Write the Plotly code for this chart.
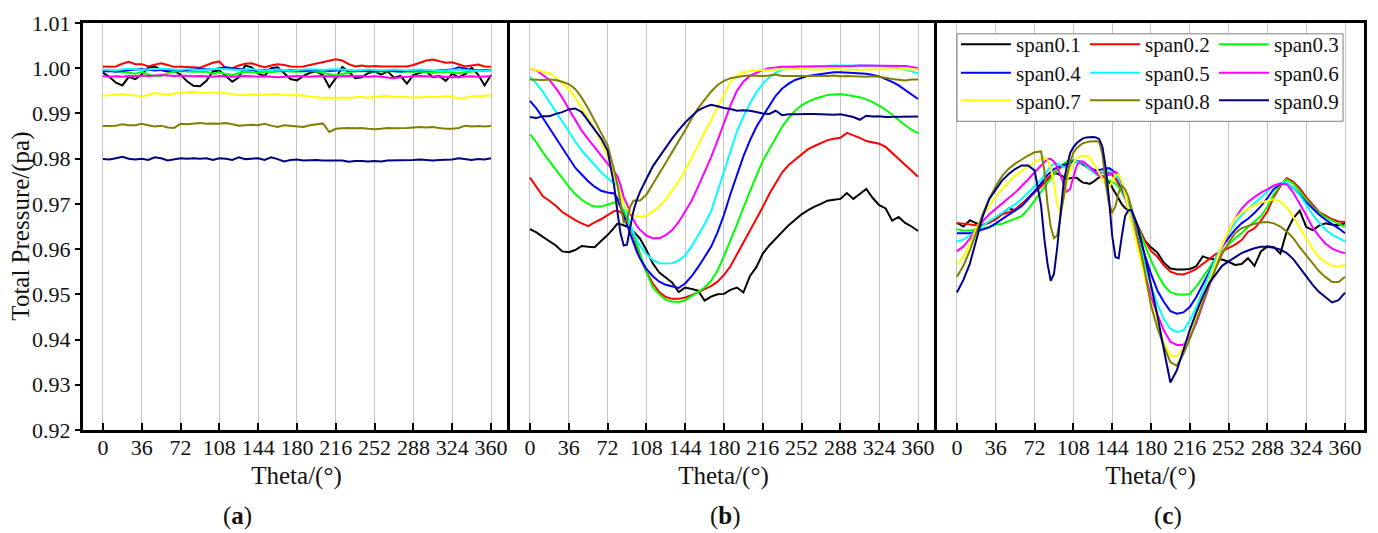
import plotly.graph_objects as go

# ---------------- data ----------------
SPAN_NAMES = ["span0.1", "span0.2", "span0.3", "span0.4", "span0.5",
              "span0.6", "span0.7", "span0.8", "span0.9"]
SPAN_COLORS = ["#000000", "#FF0000", "#00FF00", "#0000FF", "#00FFFF",
               "#FF00FF", "#FFFF00", "#808000", "#000080"]

X_TICKS = [0, 36, 72, 108, 144, 180, 216, 252, 288, 324, 360]
Y_TICKS = [0.92, 0.93, 0.94, 0.95, 0.96, 0.97, 0.98, 0.99, 1.00, 1.01]

# circumferential stations, panel (a)
THETA_A = [0, 6, 12, 18, 24, 30, 36, 42, 48, 54, 60, 66, 72, 78, 84, 90, 96, 102,
           108, 114, 120, 126, 132, 138, 144, 150, 156, 162, 168, 174, 180, 186,
           192, 198, 204, 210, 216, 222, 228, 234, 240, 246, 252, 258, 264, 270,
           276, 282, 288, 294, 300, 306, 312, 318, 324, 330, 336, 342, 348, 354, 360]

# circumferential stations, panel (b)
THETA_B = [0, 6, 12, 18, 24, 30, 36, 42, 48, 54, 60, 66, 72, 78,
           81, 84, 87, 90, 93, 96, 99,
           102, 108, 114, 120, 126, 132, 138, 144, 150, 156, 162, 168, 174, 180,
           186, 192, 198, 204, 210, 216, 222, 228, 234, 240, 246, 252, 258, 264,
           270, 276, 282, 288, 294, 300, 306, 312, 318, 324, 330, 336, 342, 348,
           354, 360]

# circumferential stations, panel (c)
THETA_C = [0, 6, 12, 18, 24, 30, 36, 42, 48, 54, 60, 66, 72, 78,
           81, 84, 87, 90, 93, 96, 99, 102, 105, 108, 111, 114, 117, 120, 123,
           126, 129, 132, 135, 138, 141, 144, 147, 150, 153, 156, 159,
           162, 168, 174, 180, 186, 192, 198, 204, 210, 216, 222, 228, 234, 240,
           246, 252, 258, 264, 270, 276, 282, 288, 294, 300, 306, 312, 318, 324,
           330, 336, 342, 348, 354, 360]

# ---- panel (a) ----
a_span01 = [0.9990, 0.9981, 0.9968, 0.9962, 0.9981, 0.9976, 0.9986, 1.0001, 1.0004, 0.9996,
            0.9993, 0.9994, 0.9986, 0.9971, 0.9961, 0.9960, 0.9972, 0.9993, 0.9995, 0.9982,
            0.9970, 0.9980, 1.0006, 1.0002, 0.9988, 0.9983, 1.0000, 1.0002, 0.9988, 0.9976,
            0.9973, 0.9983, 0.9990, 0.9993, 0.9985, 0.9958, 0.9978, 1.0003, 0.9992, 0.9978,
            0.9980, 0.9989, 0.9993, 0.9986, 0.9993, 0.9979, 0.9983, 0.9966, 0.9985, 0.9990,
            0.9993, 0.9980, 0.9983, 0.9972, 0.9988, 0.9980, 0.9987, 1.0001, 0.9986, 0.9962,
            0.9985]
a_span02 = [1.0004, 1.0003, 1.0004, 1.0010, 1.0014, 1.0009, 1.0009, 1.0004, 1.0008, 1.0011,
            1.0007, 1.0003, 1.0003, 1.0003, 1.0002, 1.0001, 1.0006, 1.0012, 1.0015, 0.9999,
            1.0000, 1.0006, 1.0010, 1.0011, 1.0006, 1.0002, 1.0006, 1.0009, 1.0007, 1.0004,
            1.0003, 1.0004, 1.0007, 1.0010, 1.0013, 1.0017, 1.0020, 1.0017, 1.0009, 1.0004,
            1.0006, 1.0004, 1.0005, 1.0004, 1.0004, 1.0005, 1.0005, 1.0004, 1.0007, 1.0012,
            1.0017, 1.0019, 1.0015, 1.0012, 1.0013, 1.0009, 1.0004, 1.0006, 1.0008, 1.0004,
            1.0003]
a_span03 = [0.9994, 0.9995, 0.9994, 0.9992, 0.9990, 0.9988, 0.9991, 0.9986, 0.9982, 0.9983,
            0.9989, 0.9992, 0.9994, 0.9993, 0.9992, 0.9993, 0.9992, 0.9988, 0.9991, 0.9987,
            0.9985, 0.9989, 0.9992, 0.9991, 0.9990, 0.9992, 0.9991, 0.9993, 0.9994, 0.9993,
            0.9992, 0.9993, 0.9994, 0.9993, 0.9990, 0.9986, 0.9984, 0.9987, 0.9990, 0.9993,
            0.9994, 0.9993, 0.9992, 0.9993, 0.9994, 0.9993, 0.9992, 0.9993, 0.9992, 0.9993,
            0.9991, 0.9990, 0.9991, 0.9992, 0.9990, 0.9989, 0.9991, 0.9993, 0.9994, 0.9995,
            0.9996]
a_span04 = [0.9993, 0.9994, 0.9992, 0.9994, 0.9996, 0.9997, 0.9998, 0.9996, 0.9995, 0.9996,
            0.9997, 0.9996, 0.9995, 0.9996, 0.9998, 0.9999, 0.9998, 0.9997, 1.0000, 1.0002,
            1.0000, 0.9998, 0.9997, 0.9996, 0.9995, 0.9996, 0.9997, 0.9996, 0.9995, 0.9996,
            0.9995, 0.9994, 0.9995, 0.9996, 0.9995, 0.9994, 0.9995, 0.9996, 0.9995, 0.9994,
            0.9995, 0.9994, 0.9993, 0.9994, 0.9995, 0.9994, 0.9993, 0.9994, 0.9995, 0.9996,
            0.9995, 0.9994, 0.9995, 0.9996, 0.9997, 1.0002, 0.9999, 0.9996, 0.9995, 0.9996,
            0.9995]
a_span05 = [0.9997, 0.9996, 0.9995, 0.9997, 0.9999, 0.9998, 0.9996, 0.9997, 0.9998, 0.9999,
            0.9998, 0.9997, 0.9996, 0.9998, 0.9997, 0.9996, 0.9997, 0.9998, 0.9999, 0.9998,
            0.9997, 0.9996, 0.9997, 0.9998, 0.9996, 0.9995, 0.9996, 0.9997, 0.9996, 0.9995,
            0.9996, 0.9997, 0.9998, 0.9997, 0.9996, 0.9997, 0.9998, 0.9997, 0.9996, 0.9995,
            0.9996, 0.9997, 0.9996, 0.9995, 0.9996, 0.9997, 0.9996, 0.9995, 0.9996, 0.9997,
            0.9996, 0.9995, 0.9994, 0.9995, 0.9996, 0.9997, 0.9996, 0.9995, 0.9994, 0.9995,
            0.9995]
a_span06 = [0.9982, 0.9981, 0.9982, 0.9981, 0.9983, 0.9982, 0.9984, 0.9983, 0.9984, 0.9985,
            0.9984, 0.9983, 0.9984, 0.9983, 0.9982, 0.9983, 0.9982, 0.9981, 0.9983, 0.9982,
            0.9981, 0.9982, 0.9983, 0.9982, 0.9981, 0.9982, 0.9981, 0.9980, 0.9981, 0.9982,
            0.9983, 0.9982, 0.9981, 0.9982, 0.9983, 0.9982, 0.9981, 0.9982, 0.9983, 0.9982,
            0.9983, 0.9981, 0.9982, 0.9981, 0.9979, 0.9978, 0.9980, 0.9981, 0.9982, 0.9983,
            0.9982, 0.9981, 0.9982, 0.9981, 0.9980, 0.9981, 0.9982, 0.9982, 0.9981, 0.9982,
            0.9982]
a_span07 = [0.9939, 0.9940, 0.9941, 0.9943, 0.9941, 0.9940, 0.9937, 0.9941, 0.9945, 0.9943,
            0.9942, 0.9944, 0.9945, 0.9946, 0.9948, 0.9946, 0.9945, 0.9947, 0.9944, 0.9945,
            0.9942, 0.9940, 0.9941, 0.9942, 0.9941, 0.9942, 0.9942, 0.9943, 0.9941, 0.9940,
            0.9941, 0.9939, 0.9937, 0.9935, 0.9934, 0.9935, 0.9933, 0.9935, 0.9934, 0.9936,
            0.9937, 0.9935, 0.9936, 0.9938, 0.9939, 0.9937, 0.9937, 0.9936, 0.9935, 0.9936,
            0.9937, 0.9937, 0.9936, 0.9938, 0.9937, 0.9933, 0.9935, 0.9938, 0.9938, 0.9939,
            0.9940]
a_span08 = [0.9872, 0.9872, 0.9873, 0.9876, 0.9874, 0.9874, 0.9877, 0.9874, 0.9871, 0.9873,
            0.9869, 0.9868, 0.9877, 0.9876, 0.9878, 0.9879, 0.9877, 0.9878, 0.9877, 0.9879,
            0.9876, 0.9873, 0.9874, 0.9875, 0.9874, 0.9877, 0.9873, 0.9870, 0.9874, 0.9873,
            0.9871, 0.9870, 0.9874, 0.9876, 0.9878, 0.9859, 0.9866, 0.9867, 0.9868, 0.9867,
            0.9868, 0.9866, 0.9865, 0.9866, 0.9868, 0.9867, 0.9867, 0.9868, 0.9869, 0.9870,
            0.9869, 0.9870, 0.9868, 0.9866, 0.9866, 0.9868, 0.9873, 0.9871, 0.9872, 0.9871,
            0.9872]
a_span09 = [0.9799, 0.9798, 0.9801, 0.9804, 0.9800, 0.9798, 0.9800, 0.9797, 0.9803, 0.9801,
            0.9796, 0.9799, 0.9801, 0.9800, 0.9801, 0.9800, 0.9801, 0.9797, 0.9801, 0.9800,
            0.9797, 0.9803, 0.9799, 0.9800, 0.9801, 0.9797, 0.9803, 0.9799, 0.9794, 0.9797,
            0.9798, 0.9796, 0.9797, 0.9797, 0.9796, 0.9796, 0.9797, 0.9796, 0.9793, 0.9795,
            0.9795, 0.9794, 0.9795, 0.9794, 0.9796, 0.9796, 0.9797, 0.9796, 0.9797, 0.9798,
            0.9797, 0.9796, 0.9797, 0.9798, 0.9798, 0.9801, 0.9799, 0.9797, 0.9799, 0.9798,
            0.9801]

# ---- panel (b) ----
b_span01 = [0.9644, 0.9637, 0.9627, 0.9617, 0.9608, 0.9595, 0.9593, 0.9598, 0.9607, 0.9605,
            0.9604, 0.9618, 0.9631, 0.9647,
            0.9656, 0.9655, 0.9653, 0.9650, 0.9646, 0.9638, 0.9632,
            0.9624, 0.9598, 0.9568, 0.9548, 0.9538, 0.9526, 0.9505, 0.9515, 0.9512, 0.9508,
            0.9486, 0.9495, 0.9500, 0.9501, 0.9510, 0.9515, 0.9504, 0.9540, 0.9560, 0.9590,
            0.9608, 0.9623, 0.9637, 0.9653, 0.9665, 0.9677, 0.9686, 0.9694, 0.9700, 0.9707,
            0.9709, 0.9711, 0.9724, 0.9711, 0.9722, 0.9733, 0.9713, 0.9697, 0.9690, 0.9663,
            0.9671, 0.9658, 0.9650, 0.9640]
b_span02 = [0.9758, 0.9737, 0.9717, 0.9707, 0.9696, 0.9682, 0.9672, 0.9664, 0.9657, 0.9651,
            0.9659, 0.9666, 0.9675, 0.9684,
            0.9685, 0.9682, 0.9674, 0.9665, 0.9653, 0.9628, 0.9605,
            0.9582, 0.9550, 0.9524, 0.9505, 0.9494, 0.9490, 0.9490, 0.9493, 0.9498, 0.9505,
            0.9512, 0.9518, 0.9528, 0.9543, 0.9562, 0.9588, 0.9614, 0.9638, 0.9665, 0.9693,
            0.9722, 0.9747, 0.9770, 0.9786, 0.9798, 0.9810, 0.9821, 0.9828, 0.9835, 0.9841,
            0.9844, 0.9846, 0.9857, 0.9852, 0.9846, 0.9839, 0.9836, 0.9833, 0.9826, 0.9813,
            0.9800, 0.9787, 0.9772, 0.9760]
b_span03 = [0.9854, 0.9836, 0.9814, 0.9795, 0.9776, 0.9756, 0.9738, 0.9722, 0.9709, 0.9700,
            0.9694, 0.9694, 0.9698, 0.9703,
            0.9701, 0.9696, 0.9685, 0.9669, 0.9651, 0.9633, 0.9612,
            0.9591, 0.9549, 0.9515, 0.9500, 0.9488, 0.9484, 0.9483, 0.9487, 0.9496, 0.9505,
            0.9515, 0.9530, 0.9552, 0.9585, 0.9619, 0.9654, 0.9692, 0.9729, 0.9762, 0.9795,
            0.9820, 0.9847, 0.9871, 0.9890, 0.9906, 0.9918, 0.9926, 0.9932, 0.9937, 0.9941,
            0.9942, 0.9943, 0.9941, 0.9939, 0.9936, 0.9931, 0.9925, 0.9917, 0.9908, 0.9897,
            0.9885, 0.9874, 0.9864, 0.9856]
b_span04 = [0.9928, 0.9911, 0.9890, 0.9868, 0.9845, 0.9823, 0.9801, 0.9780, 0.9765, 0.9750,
            0.9738, 0.9729, 0.9725, 0.9723,
            0.9713, 0.9693, 0.9671, 0.9654, 0.9631, 0.9613, 0.9595,
            0.9580, 0.9556, 0.9540, 0.9528, 0.9521, 0.9517, 0.9514, 0.9524, 0.9540, 0.9560,
            0.9582, 0.9605, 0.9637, 0.9676, 0.9722, 0.9765, 0.9805, 0.9840, 0.9870, 0.9894,
            0.9916, 0.9939, 0.9955, 0.9966, 0.9974, 0.9979, 0.9983, 0.9985, 0.9987, 0.9990,
            0.9991, 0.9991, 0.9990, 0.9990, 0.9989, 0.9988, 0.9985, 0.9982, 0.9976, 0.9970,
            0.9962, 0.9952, 0.9942, 0.9932]
b_span05 = [0.9981, 0.9966, 0.9948, 0.9927, 0.9904, 0.9882, 0.9859, 0.9838, 0.9818, 0.9802,
            0.9786, 0.9770, 0.9757, 0.9745,
            0.9744, 0.9730, 0.9705, 0.9680, 0.9655, 0.9637, 0.9620,
            0.9608, 0.9589, 0.9576, 0.9569, 0.9568, 0.9569, 0.9575, 0.9586, 0.9606, 0.9630,
            0.9655, 0.9683, 0.9728, 0.9770, 0.9818, 0.9860, 0.9893, 0.9922, 0.9946, 0.9966,
            0.9980, 0.9990, 0.9997, 1.0001, 1.0003, 1.0004, 1.0004, 1.0004, 1.0005, 1.0006,
            1.0006, 1.0006, 1.0006, 1.0007, 1.0006, 1.0006, 1.0006, 1.0005, 1.0004, 1.0002,
            1.0000, 0.9997, 0.9993, 0.9989]
b_span06 = [0.9999, 0.9995, 0.9985, 0.9974, 0.9956, 0.9935, 0.9910, 0.9886, 0.9862, 0.9843,
            0.9825, 0.9806, 0.9787, 0.9771,
            0.9762, 0.9742, 0.9715, 0.9700, 0.9679, 0.9665, 0.9652,
            0.9643, 0.9630, 0.9624, 0.9624, 0.9631, 0.9642, 0.9660, 0.9683, 0.9707, 0.9738,
            0.9770, 0.9803, 0.9840, 0.9880, 0.9918, 0.9950, 0.9970, 0.9983, 0.9990, 0.9996,
            1.0000, 1.0002, 1.0003, 1.0003, 1.0004, 1.0004, 1.0004, 1.0004, 1.0004, 1.0004,
            1.0004, 1.0004, 1.0005, 1.0005, 1.0006, 1.0006, 1.0006, 1.0006, 1.0006, 1.0006,
            1.0006, 1.0005, 1.0003, 1.0000]
b_span07 = [0.9999, 0.9996, 0.9993, 0.9989, 0.9980, 0.9968, 0.9954, 0.9935, 0.9913, 0.9891,
            0.9866, 0.9838, 0.9806, 0.9763,
            0.9744, 0.9722, 0.9700, 0.9688, 0.9681, 0.9676, 0.9672,
            0.9671, 0.9674, 0.9683, 0.9695, 0.9710, 0.9729, 0.9750, 0.9775, 0.9801, 0.9830,
            0.9858, 0.9884, 0.9915, 0.9940, 0.9970, 0.9984, 0.9991, 0.9994, 0.9995, 0.9996,
            0.9997, 0.9997, 0.9998, 0.9998, 0.9999, 0.9999, 0.9998, 0.9997, 0.9997, 0.9998,
            0.9999, 0.9998, 0.9997, 0.9997, 0.9996, 0.9997, 0.9998, 0.9998, 0.9998, 0.9998,
            0.9999, 0.9998, 0.9997, 0.9997]
b_span08 = [0.9975, 0.9974, 0.9974, 0.9975, 0.9974, 0.9970, 0.9965, 0.9954, 0.9935, 0.9911,
            0.9884, 0.9855, 0.9830, 0.9776,
            0.9744, 0.9703, 0.9659, 0.9662, 0.9694, 0.9707, 0.9708,
            0.9707, 0.9720, 0.9744, 0.9769, 0.9791, 0.9815, 0.9838, 0.9863, 0.9889, 0.9912,
            0.9930, 0.9948, 0.9963, 0.9972, 0.9978, 0.9981, 0.9983, 0.9984, 0.9983, 0.9983,
            0.9984, 0.9986, 0.9983, 0.9983, 0.9982, 0.9983, 0.9982, 0.9983, 0.9982, 0.9983,
            0.9984, 0.9982, 0.9983, 0.9982, 0.9982, 0.9981, 0.9982, 0.9981, 0.9979, 0.9976,
            0.9975, 0.9973, 0.9975, 0.9975]
b_span09 = [0.9892, 0.9890, 0.9894, 0.9894, 0.9899, 0.9903, 0.9909, 0.9911, 0.9903, 0.9884,
            0.9864, 0.9845, 0.9818, 0.9742,
            0.9685, 0.9635, 0.9608, 0.9610, 0.9648, 0.9684, 0.9708,
            0.9726, 0.9755, 0.9783, 0.9804, 0.9826, 0.9845, 0.9863, 0.9880, 0.9894, 0.9907,
            0.9914, 0.9919, 0.9916, 0.9912, 0.9910, 0.9906, 0.9907, 0.9906, 0.9903, 0.9900,
            0.9899, 0.9906, 0.9896, 0.9898, 0.9898, 0.9899, 0.9899, 0.9899, 0.9898, 0.9898,
            0.9897, 0.9898, 0.9895, 0.9892, 0.9886, 0.9895, 0.9893, 0.9894, 0.9892, 0.9892,
            0.9892, 0.9892, 0.9893, 0.9893]

# ---- panel (c) ----
c_span01 = [0.9658, 0.9650, 0.9664, 0.9657, 0.9653, 0.9659, 0.9666, 0.9678, 0.9690, 0.9686,
            0.9698, 0.9713, 0.9727, 0.9742,
            0.9749, 0.9756, 0.9763, 0.9768, 0.9767, 0.9764, 0.9760, 0.9754, 0.9757, 0.9758,
            0.9758, 0.9752, 0.9747, 0.9746, 0.9744, 0.9748, 0.9753, 0.9759, 0.9761, 0.9758,
            0.9749, 0.9737, 0.9725, 0.9712, 0.9699, 0.9691, 0.9686,
            0.9685, 0.9650, 0.9620, 0.9604, 0.9592, 0.9570, 0.9557, 0.9555, 0.9555, 0.9556,
            0.9562, 0.9584, 0.9579, 0.9577, 0.9577, 0.9572, 0.9565, 0.9567, 0.9580, 0.9563,
            0.9595, 0.9606, 0.9604, 0.9590, 0.9640, 0.9668, 0.9685, 0.9649, 0.9642, 0.9652,
            0.9657, 0.9654, 0.9653, 0.9657]
c_span02 = [0.9658, 0.9656, 0.9654, 0.9653, 0.9654, 0.9658, 0.9667, 0.9677, 0.9681, 0.9688,
            0.9700, 0.9712, 0.9725, 0.9738,
            0.9746, 0.9756, 0.9763, 0.9770, 0.9775, 0.9780, 0.9784, 0.9787, 0.9790, 0.9793,
            0.9794, 0.9792, 0.9787, 0.9782, 0.9777, 0.9773, 0.9769, 0.9769, 0.9769, 0.9769,
            0.9769, 0.9764, 0.9756, 0.9744, 0.9729, 0.9713, 0.9698,
            0.9685, 0.9650, 0.9620, 0.9596, 0.9583, 0.9564, 0.9550, 0.9545, 0.9544, 0.9549,
            0.9556, 0.9567, 0.9579, 0.9589, 0.9595, 0.9603, 0.9610, 0.9620, 0.9638, 0.9646,
            0.9663, 0.9683, 0.9716, 0.9739, 0.9757, 0.9749, 0.9734, 0.9715, 0.9698, 0.9682,
            0.9674, 0.9666, 0.9661, 0.9660]
c_span03 = [0.9644, 0.9641, 0.9641, 0.9644, 0.9645, 0.9650, 0.9654, 0.9656, 0.9662, 0.9668,
            0.9673, 0.9688, 0.9707, 0.9725,
            0.9736, 0.9747, 0.9757, 0.9767, 0.9775, 0.9784, 0.9790, 0.9794, 0.9797, 0.9797,
            0.9794, 0.9791, 0.9787, 0.9782, 0.9776, 0.9771, 0.9766, 0.9762, 0.9759, 0.9756,
            0.9753, 0.9749, 0.9745, 0.9737, 0.9726, 0.9712, 0.9697,
            0.9684, 0.9648, 0.9612, 0.9575, 0.9545, 0.9520, 0.9505, 0.9500, 0.9499, 0.9501,
            0.9517, 0.9537, 0.9558, 0.9580, 0.9596, 0.9610, 0.9624, 0.9635, 0.9649, 0.9660,
            0.9673, 0.9693, 0.9722, 0.9743, 0.9754, 0.9745, 0.9728, 0.9710, 0.9693, 0.9680,
            0.9670, 0.9663, 0.9656, 0.9649]
c_span04 = [0.9635, 0.9635, 0.9635, 0.9639, 0.9643, 0.9648, 0.9657, 0.9667, 0.9677, 0.9686,
            0.9695, 0.9710, 0.9727, 0.9744,
            0.9754, 0.9764, 0.9771, 0.9777, 0.9780, 0.9784, 0.9786, 0.9789, 0.9791, 0.9794,
            0.9795, 0.9794, 0.9788, 0.9784, 0.9780, 0.9777, 0.9774, 0.9775, 0.9776, 0.9778,
            0.9779, 0.9775, 0.9767, 0.9753, 0.9735, 0.9717, 0.9697,
            0.9679, 0.9633, 0.9590, 0.9545, 0.9508, 0.9483, 0.9463, 0.9457, 0.9460, 0.9472,
            0.9494, 0.9520, 0.9549, 0.9578, 0.9605, 0.9625, 0.9643, 0.9657, 0.9667, 0.9680,
            0.9695, 0.9713, 0.9733, 0.9744, 0.9745, 0.9735, 0.9721, 0.9704, 0.9690, 0.9676,
            0.9665, 0.9656, 0.9646, 0.9635]
c_span05 = [0.9617, 0.9621, 0.9630, 0.9641, 0.9652, 0.9662, 0.9671, 0.9681, 0.9690, 0.9699,
            0.9711, 0.9724, 0.9739, 0.9754,
            0.9763, 0.9773, 0.9783, 0.9789, 0.9790, 0.9786, 0.9781, 0.9780, 0.9784, 0.9790,
            0.9794, 0.9793, 0.9791, 0.9785, 0.9777, 0.9771, 0.9766, 0.9765, 0.9768, 0.9770,
            0.9772, 0.9770, 0.9765, 0.9755, 0.9740, 0.9719, 0.9697,
            0.9675, 0.9625, 0.9570, 0.9520, 0.9478, 0.9445, 0.9424, 0.9417, 0.9420, 0.9442,
            0.9472, 0.9508, 0.9543, 0.9579, 0.9607, 0.9636, 0.9658, 0.9675, 0.9689, 0.9701,
            0.9714, 0.9728, 0.9740, 0.9746, 0.9746, 0.9735, 0.9719, 0.9698, 0.9676, 0.9659,
            0.9643, 0.9632, 0.9624, 0.9617]
c_span06 = [0.9595, 0.9606, 0.9623, 0.9644, 0.9662, 0.9677, 0.9689, 0.9702, 0.9713, 0.9725,
            0.9739, 0.9754, 0.9770, 0.9785,
            0.9793, 0.9799, 0.9799, 0.9794, 0.9782, 0.9762, 0.9745, 0.9727, 0.9733, 0.9760,
            0.9784, 0.9794, 0.9794, 0.9788, 0.9781, 0.9774, 0.9767, 0.9762, 0.9759, 0.9761,
            0.9764, 0.9768, 0.9771, 0.9765, 0.9746, 0.9716, 0.9690,
            0.9666, 0.9608, 0.9550, 0.9495, 0.9455, 0.9420, 0.9395, 0.9388, 0.9388, 0.9405,
            0.9436, 0.9475, 0.9518, 0.9562, 0.9604, 0.9640, 0.9667, 0.9689, 0.9704, 0.9715,
            0.9725, 0.9732, 0.9741, 0.9745, 0.9743, 0.9725, 0.9701, 0.9675, 0.9648, 0.9628,
            0.9612, 0.9601, 0.9595, 0.9591]
c_span07 = [0.9566, 0.9583, 0.9611, 0.9646, 0.9675, 0.9697, 0.9716, 0.9733, 0.9748, 0.9762,
            0.9773, 0.9783, 0.9792, 0.9800,
            0.9803, 0.9798, 0.9780, 0.9745, 0.9700, 0.9683, 0.9710, 0.9750, 0.9774, 0.9791,
            0.9801, 0.9805, 0.9807, 0.9806, 0.9803, 0.9793, 0.9780, 0.9767, 0.9755, 0.9743,
            0.9737, 0.9751, 0.9763, 0.9765, 0.9750, 0.9720, 0.9690,
            0.9664, 0.9602, 0.9541, 0.9480, 0.9435, 0.9392, 0.9365, 0.9363, 0.9381, 0.9416,
            0.9453, 0.9492, 0.9530, 0.9570, 0.9608, 0.9640, 0.9667, 0.9680, 0.9689, 0.9697,
            0.9703, 0.9707, 0.9710, 0.9705, 0.9692, 0.9671, 0.9648, 0.9623, 0.9600, 0.9582,
            0.9571, 0.9563, 0.9561, 0.9566]
c_span08 = [0.9539, 0.9563, 0.9597, 0.9640, 0.9678, 0.9711, 0.9739, 0.9762, 0.9778, 0.9789,
            0.9799, 0.9807, 0.9814, 0.9816,
            0.9775, 0.9700, 0.9650, 0.9624, 0.9630, 0.9670, 0.9715, 0.9761, 0.9792, 0.9813,
            0.9823, 0.9829, 0.9834, 0.9836, 0.9838, 0.9838, 0.9839, 0.9837, 0.9809, 0.9745,
            0.9701, 0.9680, 0.9695, 0.9725, 0.9740, 0.9732, 0.9716,
            0.9690, 0.9620, 0.9555, 0.9475, 0.9425, 0.9385, 0.9350, 0.9342, 0.9368, 0.9401,
            0.9441, 0.9483, 0.9521, 0.9557, 0.9589, 0.9614, 0.9635, 0.9646, 0.9651, 0.9656,
            0.9659, 0.9660, 0.9657, 0.9650, 0.9639, 0.9624, 0.9604, 0.9587, 0.9569, 0.9551,
            0.9538, 0.9527, 0.9527, 0.9539]
c_span09 = [0.9504, 0.9532, 0.9568, 0.9623, 0.9673, 0.9711, 0.9733, 0.9752, 0.9766, 0.9777,
            0.9785, 0.9785, 0.9774, 0.9697,
            0.9624, 0.9568, 0.9530, 0.9545, 0.9603, 0.9680, 0.9748, 0.9783, 0.9812, 0.9825,
            0.9834, 0.9840, 0.9845, 0.9847, 0.9848, 0.9848, 0.9847, 0.9843, 0.9826, 0.9780,
            0.9712, 0.9630, 0.9582, 0.9580, 0.9630, 0.9673, 0.9686,
            0.9686, 0.9648, 0.9588, 0.9520, 0.9453, 0.9377, 0.9305, 0.9332, 0.9378, 0.9421,
            0.9460, 0.9495, 0.9525, 0.9545, 0.9563, 0.9573, 0.9582, 0.9591, 0.9597, 0.9602,
            0.9605, 0.9605, 0.9603, 0.9599, 0.9591, 0.9578, 0.9559, 0.9540, 0.9521, 0.9505,
            0.9494, 0.9482, 0.9487, 0.9504]

PANEL_A = [a_span01, a_span02, a_span03, a_span04, a_span05, a_span06, a_span07, a_span08, a_span09]
PANEL_B = [b_span01, b_span02, b_span03, b_span04, b_span05, b_span06, b_span07, b_span08, b_span09]
PANEL_C = [c_span01, c_span02, c_span03, c_span04, c_span05, c_span06, c_span07, c_span08, c_span09]

# ---------------- figure ----------------
FONT = "Liberation Serif"
TXT = "#111111"
W, H = 1378, 533
M_L, M_R, M_T, M_B = 83, 11, 16, 103
PW = W - M_L - M_R
PH = H - M_T - M_B
FRAME_W = 3


def px_x(px):
    return (px - M_L) / PW


def px_y(py):
    return (H - M_B - py) / PH


fig = go.Figure()

legend_of = ["legend", "legend", "legend", "legend2", "legend2", "legend2",
             "legend3", "legend3", "legend3"]

for k, name in enumerate(SPAN_NAMES):
    style = dict(color=SPAN_COLORS[k], width=2)
    fig.add_trace(go.Scatter(x=THETA_A, y=PANEL_A[k], mode="lines", name=name,
                             line=style, xaxis="x", yaxis="y", showlegend=False))
    fig.add_trace(go.Scatter(x=THETA_B, y=PANEL_B[k], mode="lines", name=name,
                             line=style, xaxis="x2", yaxis="y2", showlegend=False))
    fig.add_trace(go.Scatter(x=THETA_C, y=PANEL_C[k], mode="lines", name=name,
                             line=style, xaxis="x3", yaxis="y3", showlegend=True,
                             legend=legend_of[k]))

x_common = dict(
    range=[-18.5, 377.6], tickmode="array", tickvals=X_TICKS,
    ticks="inside", ticklen=7, tickwidth=2, tickcolor="black",
    showgrid=True, gridcolor="#c4c4c4", gridwidth=1,
    showline=True, linewidth=FRAME_W, linecolor="black", mirror=True,
    zeroline=False, tickfont=dict(family=FONT, size=22, color=TXT),
    ticklabelstandoff=-4,
    title=dict(text="Theta/(°)", font=dict(family=FONT, size=25, color=TXT), standoff=8),
)
y_common = dict(
    range=[0.92, 1.01], tickmode="array", tickvals=Y_TICKS,
    showgrid=False, showline=True, linewidth=FRAME_W, linecolor="black",
    zeroline=False,
)

third = 1.0 / 3.0
fig.update_layout(
    width=W, height=H,
    margin=dict(l=M_L, r=M_R, t=M_T, b=M_B, pad=0),
    paper_bgcolor="white", plot_bgcolor="white",
    xaxis=dict(domain=[0, third], anchor="y", **x_common),
    xaxis2=dict(domain=[third, 2 * third], anchor="y2", **x_common),
    xaxis3=dict(domain=[2 * third, 1], anchor="y3", **x_common),
    # panel borders shared with the neighbour are drawn once, by the left edge of the next panel
    yaxis=dict(anchor="x", mirror=False, ticks="outside", ticklen=5, tickwidth=1.5,
               tickcolor="black", tickformat=".2f",
               tickfont=dict(family=FONT, size=22, color=TXT), **y_common),
    yaxis2=dict(anchor="x2", mirror=False, showticklabels=False, ticks="", **y_common),
    yaxis3=dict(anchor="x3", mirror=True, showticklabels=False, ticks="", **y_common),
)

# y-axis title of panel (a)
fig.add_annotation(text="Total Pressure/(pa)", xref="paper", yref="paper",
                   x=px_x(20), y=px_y(223), textangle=-90,
                   xanchor="center", yanchor="middle", showarrow=False,
                   font=dict(family=FONT, size=25, color=TXT))

leg_common = dict(orientation="h", bgcolor="rgba(0,0,0,0)", borderwidth=0,
                  font=dict(family=FONT, size=21, color=TXT),
                  itemwidth=50, entrywidth=64, entrywidthmode="pixels",
                  xanchor="left", yanchor="middle", tracegroupgap=0)
fig.update_layout(
    legend=dict(x=px_x(958), y=px_y(38), **leg_common),
    legend2=dict(x=px_x(958), y=px_y(67), **leg_common),
    legend3=dict(x=px_x(958), y=px_y(95), **leg_common),
)

# frame around the legend rows
fig.add_shape(type="rect", xref="paper", yref="paper",
              x0=px_x(959), x1=px_x(1346), y0=px_y(116), y1=px_y(27),
              line=dict(color="#808080", width=1), fillcolor="white", layer="above")

# sub-figure captions
for lbl, cx in (("a", 237.5), ("b", 727.5), ("c", 1171)):
    fig.add_annotation(text="(<b>%s</b>)" % lbl, xref="paper", yref="paper",
                       x=px_x(cx), y=px_y(517), xanchor="center", yanchor="middle",
                       showarrow=False, font=dict(family=FONT, size=25, color=TXT))

fig.write_html("out.html")
